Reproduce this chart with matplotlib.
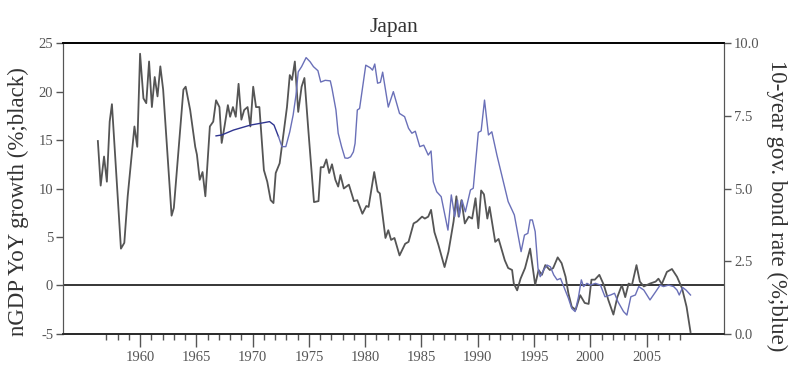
import numpy as np
import matplotlib
matplotlib.use("Agg")
import matplotlib.pyplot as plt
from matplotlib.ticker import FixedLocator

# --- data ---
# nominal GDP growth, YoY % (left axis, black)
ngdp_years = [1956.25, 1956.5, 1956.8, 1957.05, 1957.3, 1957.5, 1958.3, 1958.6, 1958.9, 1959.5,
              1959.75, 1960.0, 1960.3, 1960.55, 1960.8, 1961.05, 1961.3, 1961.55, 1961.8, 1962.05,
              1962.8, 1963.0, 1963.85, 1964.05, 1964.45, 1964.9, 1965.05, 1965.3, 1965.55, 1965.8,
              1966.2, 1966.5, 1966.75, 1967.05, 1967.25, 1967.5, 1967.8, 1968.0, 1968.25, 1968.5,
              1968.75, 1969.0, 1969.25, 1969.55, 1969.8, 1970.05, 1970.3, 1970.6, 1971.0, 1971.3,
              1971.6, 1971.85, 1972.05, 1972.4, 1973.05, 1973.3, 1973.5, 1973.75, 1974.05, 1974.35,
              1974.6, 1974.95, 1975.45, 1975.85, 1976.05, 1976.3, 1976.55, 1976.8, 1977.05, 1977.35,
              1977.6, 1977.8, 1978.1, 1978.55, 1979.0, 1979.3, 1979.75, 1980.1, 1980.3, 1980.8,
              1981.1, 1981.3, 1981.8, 1982.05, 1982.3, 1982.6, 1983.05, 1983.55, 1983.85, 1984.3,
              1984.6, 1985.05, 1985.3, 1985.6, 1985.85, 1986.15, 1986.5, 1987.05, 1987.4, 1987.85,
              1988.1, 1988.3, 1988.55, 1988.85, 1989.2, 1989.5, 1989.8, 1990.05, 1990.3, 1990.55,
              1990.85, 1991.05, 1991.55, 1991.85, 1992.4, 1992.7, 1993.05, 1993.2, 1993.5, 1993.8,
              1994.2, 1994.65, 1995.1, 1995.4, 1995.7, 1996.0, 1996.4, 1996.7, 1997.1, 1997.45,
              1997.8, 1998.05, 1998.35, 1998.7, 1999.1, 1999.5, 1999.85, 2000.1, 2000.4, 2000.8,
              2001.2, 2001.6, 2002.05, 2002.4, 2002.8, 2003.1, 2003.4, 2003.7, 2004.1, 2004.4,
              2004.75, 2005.3, 2005.8, 2006.05, 2006.35, 2006.8, 2007.25, 2007.7, 2008.15, 2008.55,
              2008.9]
ngdp_vals = [14.9, 10.3, 13.3, 10.7, 16.9, 18.7, 3.8, 4.4, 9.2, 16.4,
             14.3, 23.9, 19.3, 18.8, 23.1, 18.4, 21.5, 19.5, 22.6, 20.2,
             7.2, 8.0, 20.2, 20.5, 18.1, 14.3, 13.5, 10.9, 11.7, 9.2,
             16.4, 16.9, 19.1, 18.4, 14.7, 16.4, 18.6, 17.4, 18.4, 17.4,
             20.8, 17.1, 18.1, 18.4, 16.4, 20.5, 18.4, 18.4, 11.9, 10.7,
             8.8, 8.5, 11.6, 12.6, 18.4, 21.7, 21.2, 23.1, 17.9, 20.5,
             21.4, 16.0, 8.6, 8.7, 12.2, 12.2, 13.0, 11.6, 12.5, 10.9,
             10.2, 11.4, 10.0, 10.4, 8.7, 8.8, 7.4, 8.2, 8.1, 11.7,
             9.7, 9.5, 4.9, 5.7, 4.7, 4.9, 3.1, 4.3, 4.5, 6.4,
             6.6, 7.1, 6.9, 7.1, 7.8, 5.5, 4.2, 1.9, 3.5, 6.6,
             9.2, 7.1, 8.8, 6.4, 7.1, 6.9, 9.0, 5.9, 9.8, 9.4,
             6.9, 8.1, 4.5, 4.8, 2.6, 1.8, 1.6, 0.2, -0.5, 0.7,
             1.8, 3.8, 0.05, 1.6, 1.1, 2.1, 1.6, 1.8, 2.9, 2.3,
             0.9, -0.8, -2.2, -2.5, -1.0, -1.8, -1.9, 0.6, 0.6, 1.1,
             0.05, -1.5, -3.0, -1.2, 0.05, -1.2, 0.2, 0.05, 2.1, 0.4,
             -0.1, 0.2, 0.4, 0.7, 0.15, 1.4, 1.7, 0.9, -0.3, -2.2,
             -4.8]

# 10-year government bond rate, % (right axis, blue)
bond_years = [1966.75, 1967.25, 1968.3, 1969.8, 1970.95, 1971.5, 1971.9, 1972.3, 1972.6, 1972.95,
              1973.3, 1973.6, 1973.85, 1974.05, 1974.35, 1974.75, 1975.1, 1975.4, 1975.8, 1976.05,
              1976.45, 1976.9, 1977.05, 1977.4, 1977.6, 1977.9, 1978.2, 1978.45, 1978.7, 1978.95,
              1979.1, 1979.3, 1979.5, 1980.05, 1980.45, 1980.65, 1980.85, 1981.1, 1981.35, 1981.55,
              1982.05, 1982.5, 1983.05, 1983.5, 1983.85, 1984.15, 1984.45, 1984.85, 1985.2, 1985.6,
              1985.85, 1986.05, 1986.35, 1986.75, 1987.35, 1987.65, 1987.95, 1988.2, 1988.35, 1988.6,
              1988.9, 1989.35, 1989.6, 1990.05, 1990.3, 1990.6, 1990.95, 1991.25, 1991.7, 1992.2,
              1992.7, 1993.05, 1993.25, 1993.85, 1994.15, 1994.45, 1994.65, 1994.85, 1995.1, 1995.35,
              1995.55, 1995.85, 1996.15, 1996.45, 1996.75, 1997.05, 1997.35, 1997.7, 1998.05, 1998.35,
              1998.65, 1998.95, 1999.2, 1999.4, 1999.7, 2000.0, 2000.45, 2000.9, 2001.3, 2001.8,
              2002.15, 2002.45, 2002.95, 2003.25, 2003.6, 2004.0, 2004.3, 2004.75, 2005.3, 2005.8,
              2006.2, 2006.5, 2006.95, 2007.4, 2007.7, 2007.9, 2008.2, 2008.5, 2008.9]
bond_vals = [6.81, 6.84, 7.01, 7.18, 7.26, 7.30, 7.18, 6.78, 6.44, 6.44,
             6.95, 7.53, 8.21, 9.01, 9.19, 9.50, 9.36, 9.19, 9.05, 8.66,
             8.72, 8.70, 8.44, 7.70, 6.90, 6.44, 6.05, 6.04, 6.09, 6.26,
             6.55, 7.70, 7.75, 9.24, 9.15, 9.07, 9.28, 8.62, 8.65, 9.00,
             7.80, 8.33, 7.58, 7.47, 7.07, 6.90, 6.97, 6.44, 6.49, 6.15,
             6.29, 5.23, 4.89, 4.72, 3.57, 4.78, 4.03, 4.60, 4.03, 4.60,
             4.20, 4.95, 5.01, 6.93, 6.98, 8.04, 6.84, 6.95, 6.15, 5.35,
             4.55, 4.26, 4.09, 2.83, 3.40, 3.46, 3.92, 3.92, 3.52, 2.26,
             1.97, 2.20, 2.37, 2.31, 2.03, 1.86, 1.91, 1.57, 1.23, 0.88,
             0.77, 1.28, 1.86, 1.63, 1.74, 1.68, 1.74, 1.68, 1.28, 1.34,
             1.40, 1.11, 0.77, 0.65, 1.28, 1.34, 1.63, 1.51, 1.17, 1.45,
             1.68, 1.63, 1.68, 1.63, 1.51, 1.34, 1.60, 1.51, 1.34]

left_ticks = [-5, 0, 5, 10, 15, 20, 25]
right_ticks = [0.0, 2.5, 5.0, 7.5, 10.0]
year_labels = [1960, 1965, 1970, 1975, 1980, 1985, 1990, 1995, 2000, 2005]

plt.rcParams['font.family'] = ['Liberation Serif', 'DejaVu Serif']

fig = plt.figure(figsize=(7.92, 3.65), dpi=100)
ax = fig.add_axes([0.0795, 0.085, 0.835, 0.797])
ax2 = ax.twinx()

ax.plot(ngdp_years, ngdp_vals, color='#555555', lw=1.3, zorder=3)
ax.axhline(0, color='black', lw=1.1, zorder=2)

# bond line: darker navy for the early flat stretch, lighter blue after
by = np.array(bond_years)
bv = np.array(bond_vals)
early = by <= 1972.3
split = int(early.sum())
ax2.plot(by[:split], bv[:split], color='#2f3590', lw=1.0)
ax2.plot(by[split - 1:], bv[split - 1:], color='#6a70b8', lw=1.0)

ax.set_xlim(1953.15, 2011.9)
ax.set_ylim(-5, 25)
ax2.set_ylim(0, 10)

ax.set_yticks(left_ticks)
ax.set_yticklabels([str(t) for t in left_ticks])
ax2.set_yticks(right_ticks)
ax2.set_yticklabels([f"{t:.1f}" for t in right_ticks])

ax.xaxis.set_major_locator(FixedLocator(year_labels))
ax.set_xticklabels([str(y) for y in year_labels])
ax.xaxis.set_minor_locator(FixedLocator([y for y in range(1957, 2009) if y not in year_labels]))

gray = '#555555'
ax.tick_params(axis='x', which='major', direction='out', length=9, width=1.0, color=gray,
               labelsize=10.5, labelcolor=gray, pad=3)
ax.tick_params(axis='x', which='minor', direction='out', length=4.5, width=1.0, color=gray)
ax.tick_params(axis='y', direction='out', length=5, width=1.0, color=gray,
               labelsize=10.5, labelcolor=gray, pad=2)
ax2.tick_params(axis='y', direction='out', length=5, width=1.0, color=gray,
                labelsize=10.5, labelcolor=gray, pad=2)

for a in (ax, ax2):
    a.spines['top'].set_color('black')
    a.spines['top'].set_linewidth(1.2)
    a.spines['bottom'].set_color('#222222')
    a.spines['bottom'].set_linewidth(1.1)
    a.spines['left'].set_color(gray)
    a.spines['right'].set_color(gray)

ax.set_ylabel('nGDP YoY growth (%;black)', fontsize=16.5, color='#333333')
ax.yaxis.set_label_coords(-0.052, 0.455)
ax2.set_ylabel('10-year gov. bond rate (%;blue)', fontsize=16.5, color='#333333', rotation=270)
ax2.yaxis.set_label_coords(1.095, 0.44)
ax.set_title('Japan', fontsize=15.5, color='#333333', pad=8)

fig.savefig('out.png', dpi=100)
